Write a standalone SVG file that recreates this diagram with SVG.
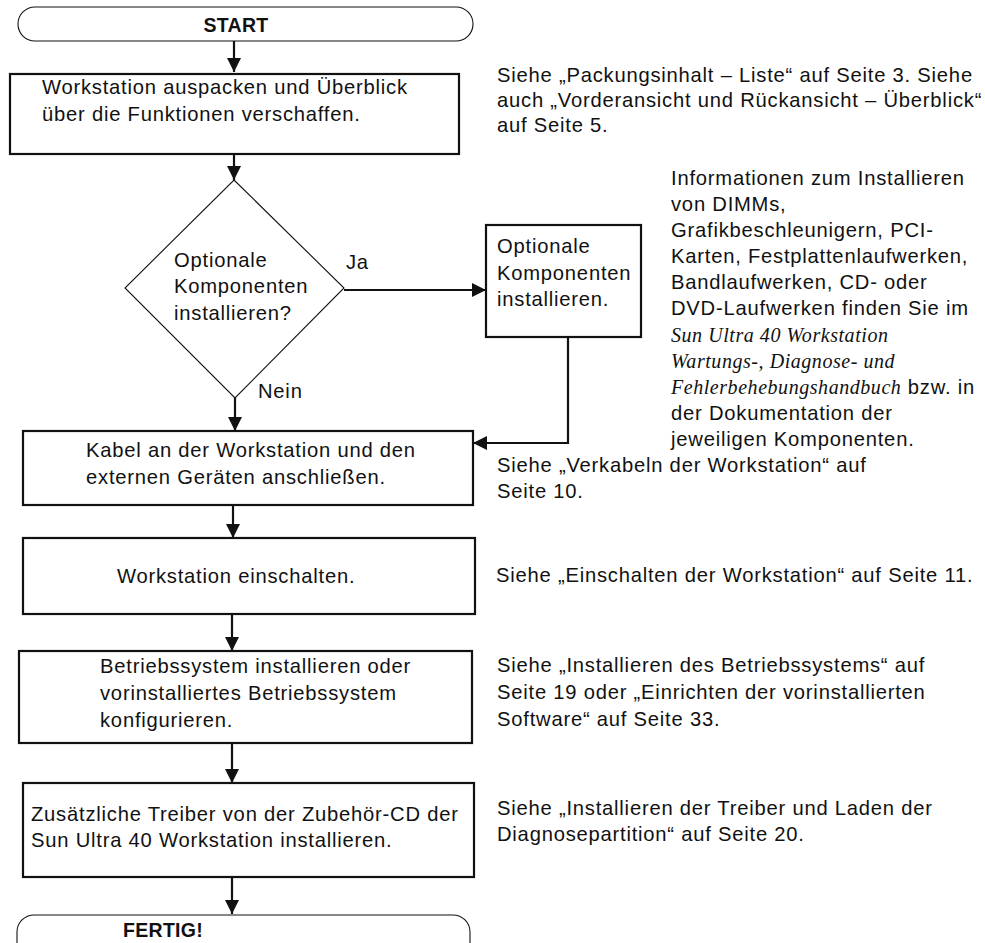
<svg xmlns="http://www.w3.org/2000/svg" width="985" height="943" viewBox="0 0 985 943">
<style>
  .t{font-family:"Liberation Sans",Arial,Helvetica,sans-serif;font-size:20.2px;letter-spacing:0.78px;fill:#111}
  .b{font-family:"Liberation Sans",Arial,Helvetica,sans-serif;font-size:19.5px;font-weight:bold;letter-spacing:0.3px;fill:#111}
  .i{font-family:"Liberation Serif","Times New Roman",serif;font-style:italic;font-size:20px;letter-spacing:0.55px;fill:#111}
  .box{fill:#fff;stroke:#111;stroke-width:2.2}
  .thin{fill:#fff;stroke:#111;stroke-width:1.1}
  .con{fill:none;stroke:#111;stroke-width:2.2}
</style>
<defs>
  <marker id="ah" viewBox="0 0 14 14" refX="14" refY="7" markerWidth="14" markerHeight="14" markerUnits="userSpaceOnUse" orient="auto">
    <path d="M0,0 L14,7 L0,14 z" fill="#111"/>
  </marker>
</defs>
<rect width="985" height="943" fill="#fff"/>

<g id="connectors">
  <line class="con" x1="234" y1="41" x2="234" y2="72" marker-end="url(#ah)"/>
  <line class="con" x1="234" y1="154" x2="234" y2="180" marker-end="url(#ah)"/>
  <line class="con" x1="344" y1="290" x2="486" y2="290" marker-end="url(#ah)"/>
  <line class="con" x1="235" y1="398" x2="235" y2="431" marker-end="url(#ah)"/>
  <polyline class="con" points="568,337 568,443 473,443" marker-end="url(#ah)"/>
  <line class="con" x1="233" y1="505" x2="233" y2="538" marker-end="url(#ah)"/>
  <line class="con" x1="232" y1="614" x2="232" y2="651" marker-end="url(#ah)"/>
  <line class="con" x1="232" y1="743" x2="232" y2="783" marker-end="url(#ah)"/>
  <line class="con" x1="232" y1="877" x2="232" y2="914" marker-end="url(#ah)"/>
  <text class="t" x="346" y="269">Ja</text>
  <text class="t" x="258" y="398">Nein</text>
</g>

<g id="start">
  <rect class="thin" x="18" y="7" width="455" height="34" rx="17" ry="17"/>
  <text class="b" x="236" y="32" text-anchor="middle">START</text>
</g>

<g id="unpack">
  <rect class="box" x="10" y="74" width="449" height="80"/>
  <text class="t" x="42" y="94">Workstation auspacken und Überblick</text>
  <text class="t" x="42" y="121">über die Funktionen verschaffen.</text>
</g>

<g id="decision">
  <polygon class="thin" points="234,180 344,288 235,398 125,288"/>
  <text class="t" x="174" y="267">Optionale</text>
  <text class="t" x="174" y="293">Komponenten</text>
  <text class="t" x="174" y="320">installieren?</text>
</g>

<g id="optional">
  <rect class="box" x="486" y="225" width="155" height="112"/>
  <text class="t" x="497" y="253">Optionale</text>
  <text class="t" x="497" y="280">Komponenten</text>
  <text class="t" x="497" y="306">installieren.</text>
</g>

<g id="cables">
  <rect class="box" x="23" y="431" width="450" height="74"/>
  <text class="t" x="86" y="457">Kabel an der Workstation und den</text>
  <text class="t" x="86" y="484">externen Geräten anschließen.</text>
</g>

<g id="poweron">
  <rect class="box" x="23" y="538" width="452" height="76"/>
  <text class="t" x="117" y="583">Workstation einschalten.</text>
</g>

<g id="os">
  <rect class="box" x="19" y="651" width="453" height="92"/>
  <text class="t" x="100" y="673">Betriebssystem installieren oder</text>
  <text class="t" x="100" y="700">vorinstalliertes Betriebssystem</text>
  <text class="t" x="100" y="727">konfigurieren.</text>
</g>

<g id="drivers">
  <rect class="box" x="23" y="783" width="451" height="94"/>
  <text class="t" x="31" y="821">Zusätzliche Treiber von der Zubehör-CD der</text>
  <text class="t" x="31" y="847">Sun Ultra 40 Workstation installieren.</text>
</g>

<g id="end">
  <rect class="thin" x="17" y="915" width="453" height="60" rx="17" ry="17"/>
  <text class="b" x="123" y="937">FERTIG!</text>
</g>

<g id="notes">
  <text class="t" x="497" y="82">Siehe „Packungsinhalt – Liste“ auf Seite 3. Siehe</text>
  <text class="t" x="497" y="107">auch „Vorderansicht und Rückansicht – Überblick“</text>
  <text class="t" x="497" y="132">auf Seite 5.</text>

  <text class="t" x="671" y="185">Informationen zum Installieren</text>
  <text class="t" x="671" y="211">von DIMMs,</text>
  <text class="t" x="671" y="237">Grafikbeschleunigern, PCI-</text>
  <text class="t" x="671" y="263">Karten, Festplattenlaufwerken,</text>
  <text class="t" x="671" y="289">Bandlaufwerken, CD- oder</text>
  <text class="t" x="671" y="315">DVD-Laufwerken finden Sie im</text>
  <text class="i" x="671" y="342">Sun Ultra 40 Workstation</text>
  <text class="i" x="671" y="368">Wartungs-, Diagnose- und</text>
  <text class="i" x="671" y="394">Fehlerbehebungshandbuch<tspan class="t" style="font-style:normal"> bzw. in</tspan></text>
  <text class="t" x="671" y="420">der Dokumentation der</text>
  <text class="t" x="671" y="446">jeweiligen Komponenten.</text>

  <text class="t" x="497" y="472">Siehe „Verkabeln der Workstation“ auf</text>
  <text class="t" x="497" y="498">Seite 10.</text>

  <text class="t" x="496" y="582">Siehe „Einschalten der Workstation“ auf Seite 11.</text>

  <text class="t" x="497" y="672">Siehe „Installieren des Betriebssystems“ auf</text>
  <text class="t" x="497" y="699">Seite 19 oder „Einrichten der vorinstallierten</text>
  <text class="t" x="497" y="726">Software“ auf Seite 33.</text>

  <text class="t" x="497" y="815">Siehe „Installieren der Treiber und Laden der</text>
  <text class="t" x="497" y="841">Diagnosepartition“ auf Seite 20.</text>
</g>
</svg>
